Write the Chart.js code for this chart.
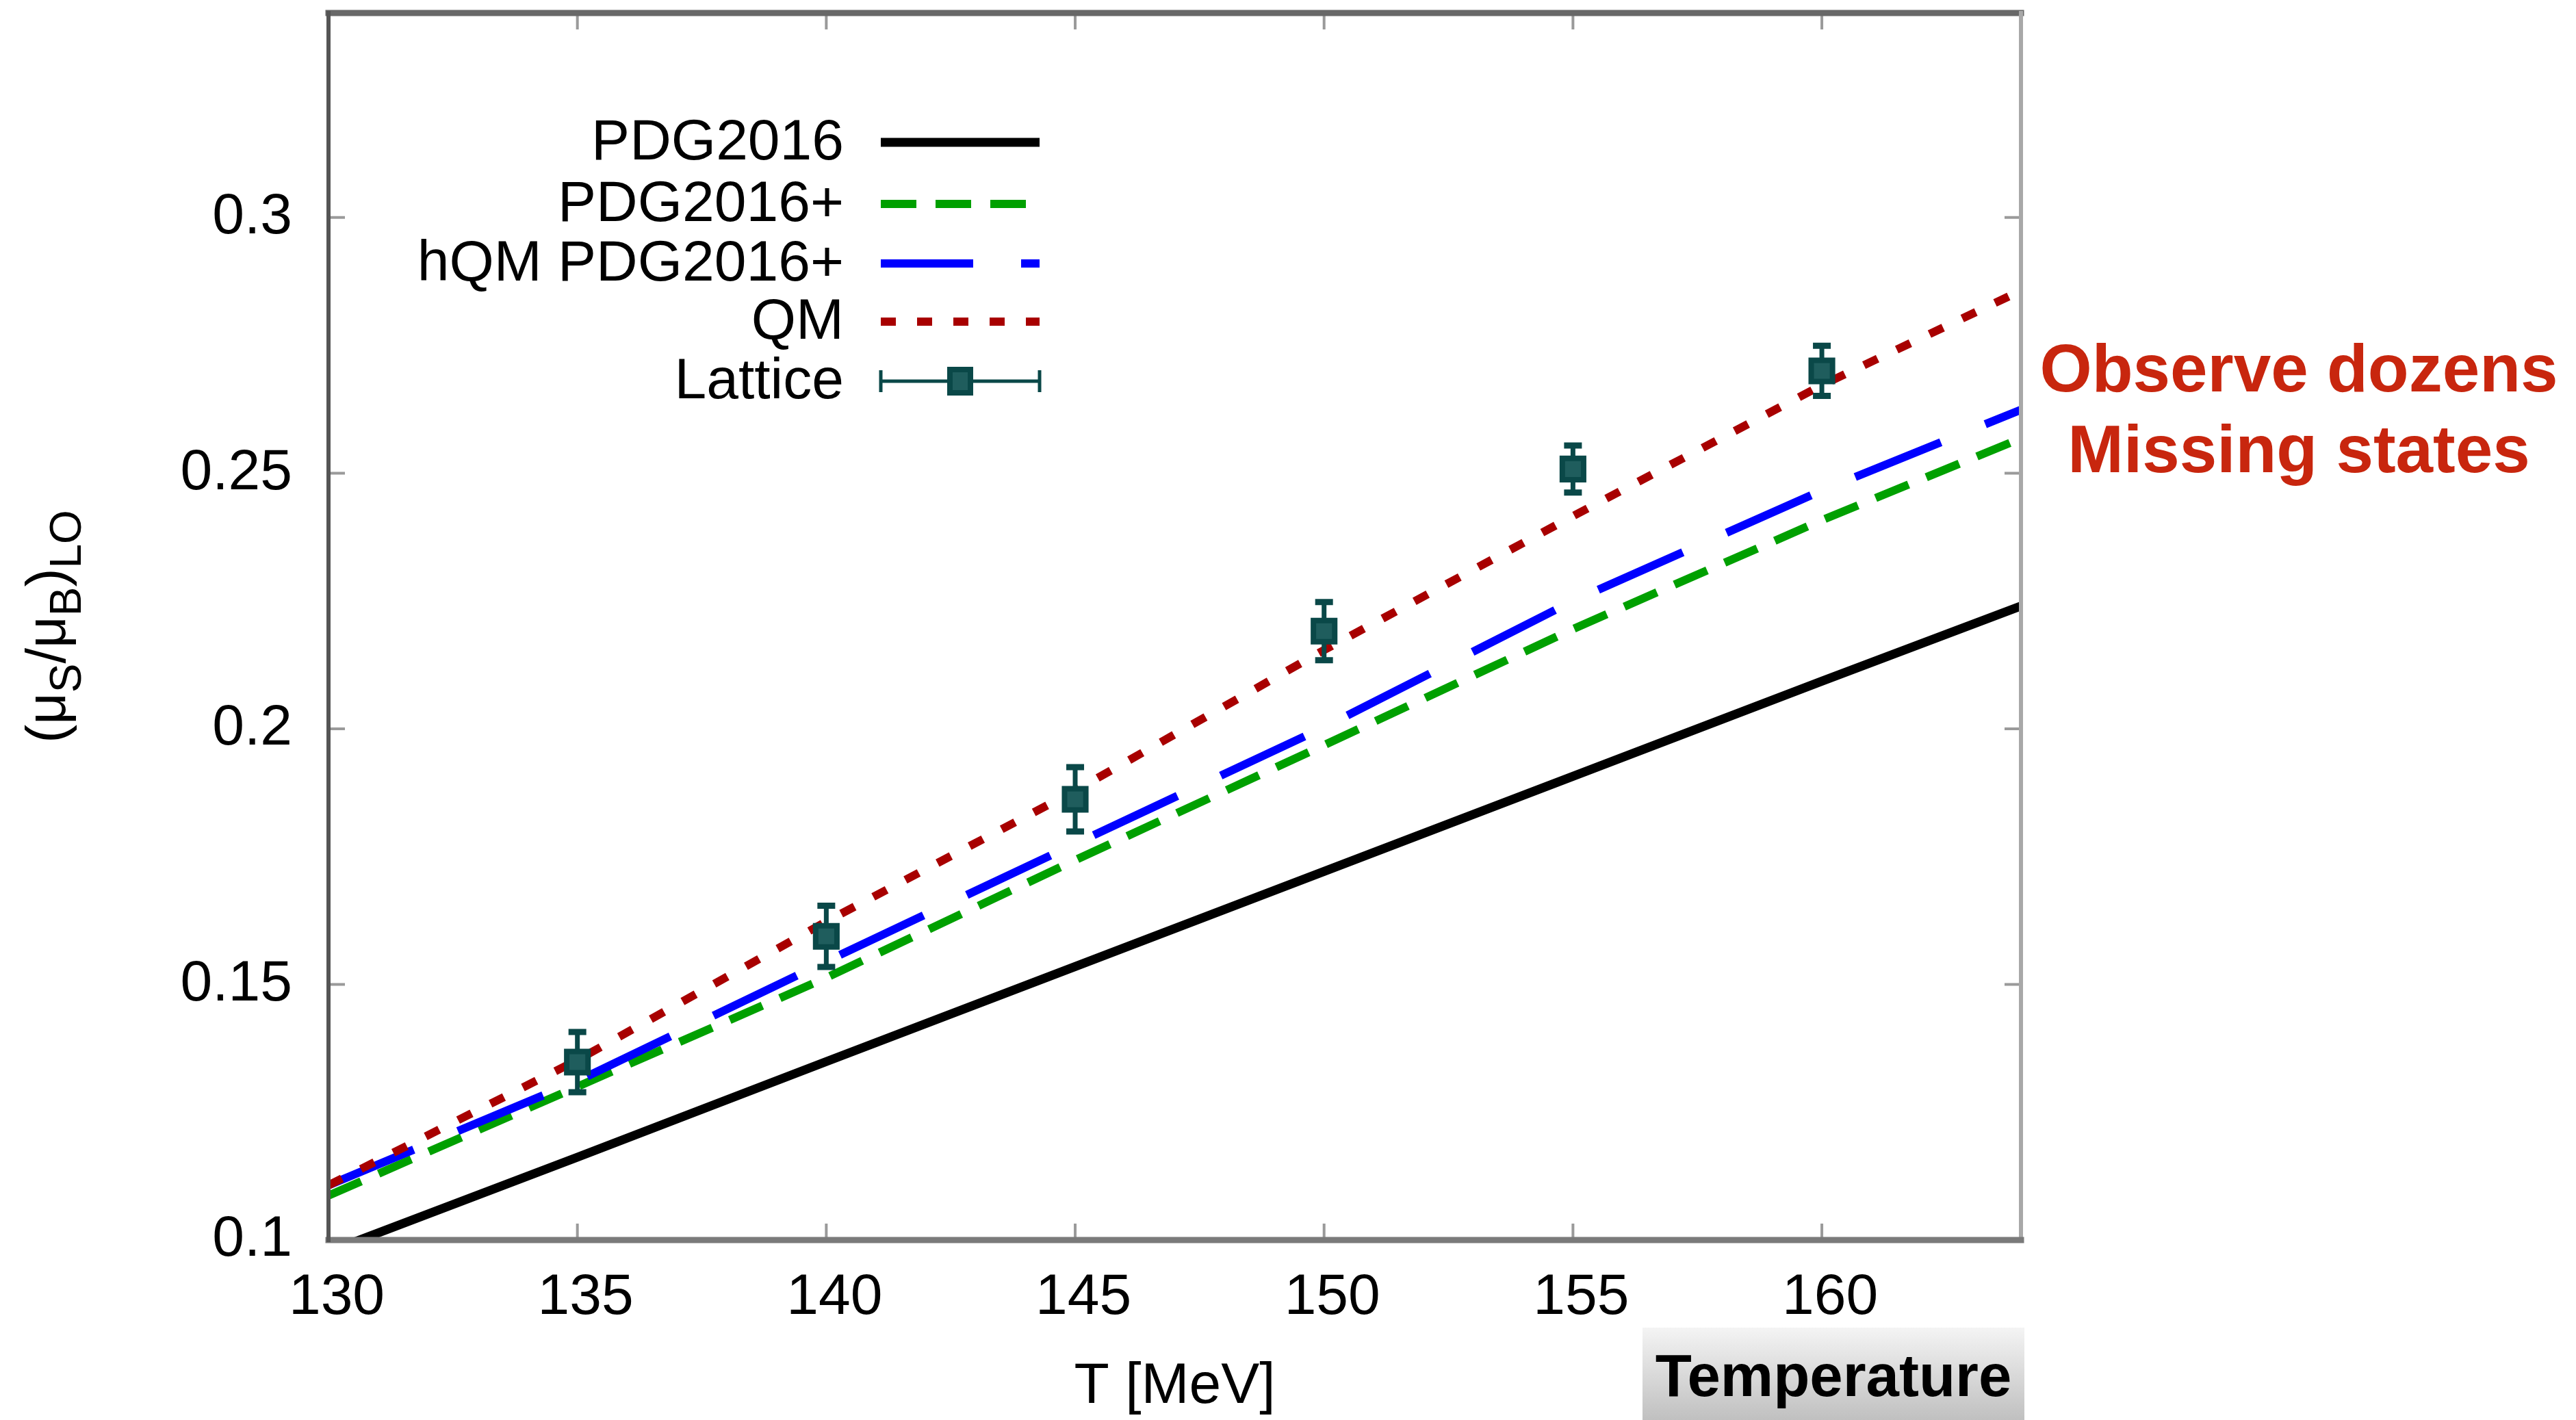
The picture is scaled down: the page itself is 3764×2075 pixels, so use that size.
<!DOCTYPE html>
<html>
<head>
<meta charset="utf-8">
<script src="https://cdn.jsdelivr.net/npm/chart.js@4.4.1/dist/chart.umd.min.js"></script>
<style>
html,body{margin:0;padding:0;background:#fff;overflow:hidden}
canvas{display:block}
</style>
</head>
<body>
<canvas id="c" width="3764" height="2075" style="width:3764px;height:2075px"></canvas>
<script>
// ---------------- data ----------------
const temps = [130, 135, 140, 145, 150, 155, 160, 164];
const pdg2016 = [0.0977, 0.1162, 0.1349, 0.1535, 0.1721, 0.1907, 0.2093, 0.2240];
const pdg2016plus = [0.1087, 0.1300, 0.1513, 0.1743, 0.1968, 0.2195, 0.2408, 0.2568];
const hqmPdg2016plus = [0.1107, 0.1311, 0.1545, 0.1775, 0.2003, 0.2250, 0.2466, 0.2624];
const qm = [0.1107, 0.1352, 0.1623, 0.1879, 0.2154, 0.2416, 0.2672, 0.2857];
const latticeT = [135, 140, 145, 150, 155, 160];
const latticeVal = [0.1348, 0.1594, 0.1862, 0.2191, 0.2508, 0.2700];
const latticeErr = [0.0059, 0.0060, 0.0063, 0.0057, 0.0046, 0.0049];
const seriesLabels = ['PDG2016', 'PDG2016+', 'hQM PDG2016+', 'QM', 'Lattice'];
const xTickValues = [130, 135, 140, 145, 150, 155, 160];
const xTickLabels = ['130', '135', '140', '145', '150', '155', '160'];
const yTickValues = [0.1, 0.15, 0.2, 0.25, 0.3];
const yTickLabels = ['0.1', '0.15', '0.2', '0.25', '0.3'];
const xTitle = 'T [MeV]';
const noteLines = ['Observe dozens', 'Missing states'];
const boxText = 'Temperature';

// ---------------- styling ----------------
const FONT = "'Liberation Sans', Arial, Helvetica, sans-serif";
const LATTICE = '#0a4848';
const pts = (xs, ys) => xs.map((x, i) => ({x: x, y: ys[i]}));

const decor = {
  id: 'decor',
  beforeDatasetDraw(chart, args) {
    const ds = chart.data.datasets[args.index];
    if (ds.label !== 'Lattice') return;
    const ctx = chart.ctx, xs = chart.scales.x, ys = chart.scales.y;
    ctx.save();
    ctx.strokeStyle = LATTICE;
    ctx.lineCap = 'butt';
    latticeT.forEach((t, i) => {
      const px = xs.getPixelForValue(t);
      const top = ys.getPixelForValue(latticeVal[i] + latticeErr[i]);
      const bot = ys.getPixelForValue(latticeVal[i] - latticeErr[i]);
      ctx.lineWidth = 7;
      ctx.beginPath(); ctx.moveTo(px, top); ctx.lineTo(px, bot); ctx.stroke();
      ctx.lineWidth = 9;
      ctx.beginPath();
      ctx.moveTo(px - 13, top); ctx.lineTo(px + 13, top);
      ctx.moveTo(px - 13, bot); ctx.lineTo(px + 13, bot);
      ctx.stroke();
    });
    ctx.restore();
  },
  afterDraw(chart) {
    const ctx = chart.ctx, a = chart.chartArea, xs = chart.scales.x, ys = chart.scales.y;
    ctx.save();
    // inner tick marks on all four sides
    ctx.strokeStyle = '#9a9a9a';
    ctx.lineWidth = 4;
    ctx.setLineDash([]);
    xTickValues.forEach(v => {
      if (v === xs.min || v === xs.max) return;
      const px = xs.getPixelForValue(v);
      ctx.beginPath();
      ctx.moveTo(px, a.bottom); ctx.lineTo(px, a.bottom - 24);
      ctx.moveTo(px, a.top); ctx.lineTo(px, a.top + 24);
      ctx.stroke();
    });
    yTickValues.forEach(v => {
      if (v === ys.min || v === ys.max) return;
      const py = ys.getPixelForValue(v);
      ctx.beginPath();
      ctx.moveTo(a.left, py); ctx.lineTo(a.left + 24, py);
      ctx.moveTo(a.right, py); ctx.lineTo(a.right - 24, py);
      ctx.stroke();
    });
    // frame
    const side = (x1, y1, x2, y2, c, w) => {
      ctx.strokeStyle = c; ctx.lineWidth = w; ctx.lineCap = 'square';
      ctx.beginPath(); ctx.moveTo(x1, y1); ctx.lineTo(x2, y2); ctx.stroke();
    };
    side(a.left, a.top, a.right, a.top, '#686868', 9);
    side(a.right, a.top, a.right, a.bottom, '#a8a8a8', 6);
    side(a.left, a.bottom, a.right, a.bottom, '#7a7a7a', 9);
    side(a.left, a.top, a.left, a.bottom, '#555555', 6);
    ctx.lineCap = 'butt';

    // legend (right-aligned labels, samples to the right)
    const rows = [208, 298, 385, 470, 557];
    const sx1 = 1287, sx2 = 1519, textRight = 1233;
    ctx.font = '84px ' + FONT;
    ctx.textAlign = 'right';
    ctx.textBaseline = 'middle';
    chart.data.datasets.forEach((ds, i) => {
      const ry = rows[i];
      ctx.fillStyle = '#000';
      ctx.fillText(ds.label, textRight, ry + 2);
      if (ds.label !== 'Lattice') {
        ctx.strokeStyle = ds.borderColor;
        ctx.lineWidth = ds.borderWidth;
        ctx.setLineDash(ds.borderDash || []);
        ctx.beginPath(); ctx.moveTo(sx1, ry); ctx.lineTo(sx2, ry); ctx.stroke();
        ctx.setLineDash([]);
      } else {
        ctx.strokeStyle = LATTICE;
        ctx.lineWidth = 5;
        ctx.beginPath();
        ctx.moveTo(sx1, ry); ctx.lineTo(sx2, ry);
        ctx.moveTo(sx1, ry - 16); ctx.lineTo(sx1, ry + 16);
        ctx.moveTo(sx2, ry - 16); ctx.lineTo(sx2, ry + 16);
        ctx.stroke();
        const mx = (sx1 + sx2) / 2;
        ctx.fillStyle = ds.backgroundColor;
        ctx.fillRect(mx - 15, ry - 17, 30, 34);
        ctx.lineWidth = 8;
        ctx.strokeRect(mx - 15, ry - 17, 30, 34);
      }
    });

    // rotated y-axis title with subscripts: (μS/μB)LO
    const segs = [
      {t: '(', s: 81, sub: false}, {t: 'μ', s: 81, sub: false}, {t: 'S', s: 64, sub: true},
      {t: '/', s: 81, sub: false}, {t: 'μ', s: 81, sub: false}, {t: 'B', s: 64, sub: true},
      {t: ')', s: 81, sub: false}, {t: 'LO', s: 64, sub: true}
    ];
    let total = 0;
    segs.forEach(g => { ctx.font = g.s + 'px ' + FONT; g.w = ctx.measureText(g.t).width; total += g.w; });
    const cy = (a.top + a.bottom) / 2;
    ctx.translate(95, cy + total / 2);
    ctx.rotate(-Math.PI / 2);
    ctx.textAlign = 'left';
    ctx.textBaseline = 'alphabetic';
    ctx.fillStyle = '#000';
    let cx = 0;
    segs.forEach(g => {
      ctx.font = g.s + 'px ' + FONT;
      ctx.fillText(g.t, cx, g.sub ? 23 : 0);
      cx += g.w;
    });
    ctx.setTransform(1, 0, 0, 1, 0, 0);

    // red annotation on the right
    ctx.font = 'bold 98px ' + FONT;
    ctx.fillStyle = '#c8260e';
    ctx.textAlign = 'center';
    ctx.textBaseline = 'alphabetic';
    ctx.fillText(noteLines[0], 3359, 572);
    ctx.fillText(noteLines[1], 3359, 690);

    // "Temperature" box at bottom right
    const g = ctx.createLinearGradient(0, 1940, 0, 2075);
    g.addColorStop(0, '#f4f4f4');
    g.addColorStop(1, '#c0c0c0');
    ctx.fillStyle = g;
    ctx.fillRect(2400, 1940, 558, 135);
    ctx.font = 'bold 87px ' + FONT;
    ctx.fillStyle = '#000';
    ctx.fillText(boxText, 2679, 2040);
    ctx.restore();
  }
};

new Chart(document.getElementById('c').getContext('2d'), {
  type: 'line',
  data: {
    datasets: [
      {label: seriesLabels[0], data: pts(temps, pdg2016), borderColor: '#000000', borderWidth: 13,
       pointRadius: 0, order: 4},
      {label: seriesLabels[1], data: pts(temps, pdg2016plus), borderColor: '#00a000', borderWidth: 12,
       borderDash: [52, 28], pointRadius: 0, order: 3},
      {label: seriesLabels[2], data: pts(temps, hqmPdg2016plus), borderColor: '#0000ff', borderWidth: 12,
       borderDash: [135, 70], pointRadius: 0, order: 2},
      {label: seriesLabels[3], data: pts(temps, qm), borderColor: '#a80000', borderWidth: 12,
       borderDash: [22, 31], pointRadius: 0, order: 1},
      {label: seriesLabels[4], data: pts(latticeT, latticeVal), showLine: false, pointStyle: 'rect',
       pointRadius: 22, borderWidth: 8, borderColor: LATTICE, backgroundColor: '#1f5d5d', order: 0}
    ]
  },
  options: {
    responsive: false,
    animation: false,
    devicePixelRatio: 1,
    layout: {autoPadding: false, padding: {left: 0, right: 811, top: 19, bottom: 0}},
    plugins: {legend: {display: false}, tooltip: {enabled: false}},
    elements: {line: {tension: 0, borderCapStyle: 'butt', fill: false}},
    scales: {
      x: {
        type: 'linear', min: 130, max: 164,
        afterFit: s => { s.height = 263; s.paddingLeft = 0; s.paddingRight = 0; },
        afterBuildTicks: s => { s.ticks = xTickValues.map(v => ({value: v})); },
        ticks: {callback: (v, i) => xTickLabels[i], font: {size: 84, family: FONT, lineHeight: 1},
                color: '#000', padding: 43, maxRotation: 0, minRotation: 0, autoSkip: false, labelOffset: 12},
        grid: {display: false, drawTicks: false},
        border: {display: false},
        title: {display: true, text: xTitle, color: '#000',
                font: {size: 84, family: FONT, lineHeight: 1}, padding: {top: 0, bottom: 6}}
      },
      y: {
        type: 'linear', min: 0.1, max: 0.34,
        afterFit: s => { s.width = 480; s.paddingTop = 0; s.paddingBottom = 0; },
        afterBuildTicks: s => { s.ticks = yTickValues.map(v => ({value: v})); },
        ticks: {callback: (v, i) => yTickLabels[i], font: {size: 84, family: FONT, lineHeight: 1},
                color: '#000', padding: 53, autoSkip: false},
        grid: {display: false, drawTicks: false},
        border: {display: false}
      }
    }
  },
  plugins: [decor]
});
</script>
</body>
</html>
